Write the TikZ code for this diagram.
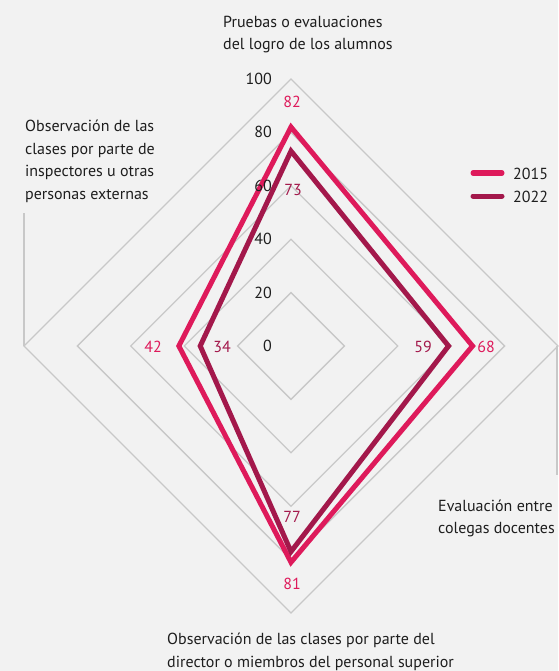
\documentclass[tikz,border=0pt]{standalone}
\usepackage{fontspec}
\setmainfont{PT Sans}
\definecolor{bgc}{HTML}{F2F2F2}
\definecolor{gridc}{HTML}{C8C8C8}
\definecolor{cA}{HTML}{DE1A5B}
\definecolor{cB}{HTML}{A3184B}
\definecolor{txt}{HTML}{1E1E1E}
\tikzset{
  gridline/.style={draw=gridc, line width=1.3pt},
  serA/.style={draw=cA, line width=5pt, miter limit=10},
  serB/.style={draw=cB, line width=5pt, miter limit=10},
  tick/.style={anchor=east, inner sep=0pt, text=txt},
  valA/.style={inner sep=0pt, text=cA},
  valB/.style={inner sep=0pt, text=cB},
  axlabel/.style={anchor=base west, inner sep=0pt, align=left, text=txt},
  legline/.style={line width=5pt, line cap=round},
}
\begin{document}
\begin{tikzpicture}[x=1pt,y=-1pt,font=\fontsize{16}{22.4}\selectfont]
\fill[bgc] (0,0) rectangle (558,671);
\useasboundingbox (0,0) rectangle (558,671);
% grid
\foreach \v in {20,40,60,80,100}{
  \draw[gridline] (291,{346-2.67*\v}) -- ({291+2.67*\v},346) -- (291,{346+2.67*\v}) -- ({291-2.67*\v},346) -- cycle;
}
\coordinate (L100) at (24,346);
\coordinate (R100) at (557,346);
\coordinate (Ltop) at (24,213);
\coordinate (Rbot) at (557,475);
\draw[gridline] (L100) -- (Ltop);
\draw[gridline] (R100) -- (Rbot);
% data
\coordinate (A1) at (291,{346-2.67*82});
\coordinate (A2) at ({291+2.67*68},346);
\coordinate (A3) at (291,{346+2.67*81});
\coordinate (A4) at ({291-2.67*42},346);
\coordinate (B1) at (291,{346-2.67*73});
\coordinate (B2) at ({291+2.67*59},346);
\coordinate (B3) at (291,{346+2.67*77});
\coordinate (B4) at ({291-2.67*34},346);
\draw[serA] (A1) -- (A2) -- (A3) -- (A4) -- cycle;
\draw[serB] (B1) -- (B2) -- (B3) -- (B4) -- cycle;
% ticks
\foreach \v in {0,20,40,60,80,100}{
  \node[tick] (t\v) at (272,{346-2.67*\v}) {\v};
}
% values
\node[valA] (vA1) at (292,102) {82};
\node[valB] (vB1) at (293,190) {73};
\node[valA] (vA2) at (486,347) {68};
\node[valB] (vB2) at (423,347) {59};
\node[valA] (vA3) at (292,584) {81};
\node[valB] (vB3) at (292,517) {77};
\node[valA] (vA4) at (153,347) {42};
\node[valB] (vB4) at (222,347) {34};
% axis labels (anchor = baseline of last line)
\node[axlabel] (lab1) at (223,50) {Pruebas o evaluaciones\\del logro de los alumnos};
\node[axlabel] (lab2) at (438,533.4) {Evaluación entre\\colegas docentes};
\node[axlabel] (lab3) at (167,667) {Observación de las clases por parte del\\director o miembros del personal superior};
\node[axlabel] (lab4) at (25,199.2) {Observación de las\\clases por parte de\\inspectores u otras\\personas externas};
% legend
\coordinate (la1) at (473,173);
\coordinate (la2) at (502,173);
\coordinate (lb1) at (473,196);
\coordinate (lb2) at (502,196);
\draw[legline, cA] (la1) -- (la2);
\draw[legline, cB] (lb1) -- (lb2);
\node[anchor=west, inner sep=0pt, text=txt] (legA) at (513,174) {2015};
\node[anchor=west, inner sep=0pt, text=txt] (legB) at (513,197) {2022};
\end{tikzpicture}
\end{document}
